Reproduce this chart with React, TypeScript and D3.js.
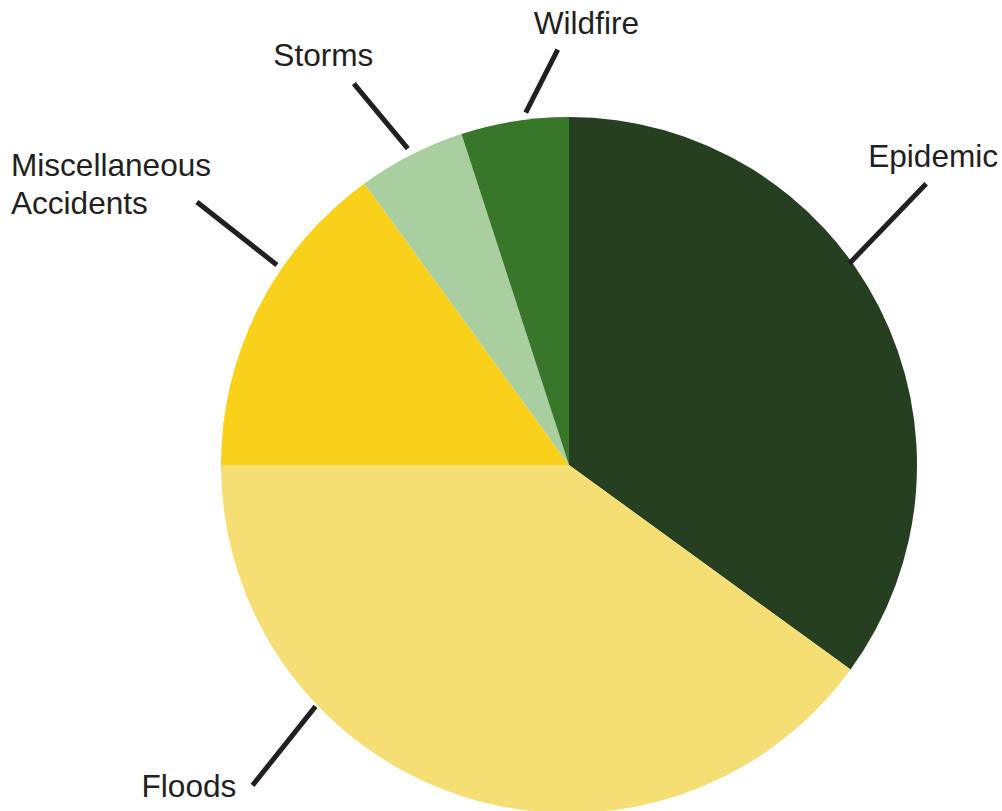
import React from "react";
import * as d3 from "d3";

// Share of events by category (percent)
const categories = ["Epidemic", "Floods", "Miscellaneous Accidents", "Storms", "Wildfire"];
const shares = [35, 40, 15, 5, 5];
const colors = ["#253f20", "#f5de74", "#f9d01a", "#a9cfa1", "#387629"];
const labelLines = [["Epidemic"], ["Floods"], ["Miscellaneous", "Accidents"], ["Storms"], ["Wildfire"]];

const W = 1002;
const H = 811;
const CX = 569;
const CY = 465;
const R = 348;

// Leader placement: angle (deg, clockwise from 12 o'clock) where each leader meets the pie,
// the leader's outward offset, and where its label sits relative to the leader's outer end.
const leaderLayout = [
  { angle: 54.3, r0: 345, dx: 77, dy: -80, tx: -58, ty: -16.5 },
  { angle: 226.4, r0: 350, dx: -63, dy: 79, tx: -111, ty: 12 },
  { angle: 304.4, r0: 354, dx: -80, dy: -63, tx: -186, ty: -26.5 },
  { angle: 333, r0: 355, dx: -54, dy: -65, tx: -80.5, ty: -18 },
  { angle: 353, r0: 355, dx: 32, dy: -63, tx: -24, ty: -16 },
];

const FONT = "Liberation Sans, Arial, sans-serif";
const LINE_GAP = 38;

export default function App() {
  const pie = d3
    .pie<number>()
    .sort(null)
    .value((d) => d)
    .startAngle(0)
    .endAngle(2 * Math.PI);
  const arcs = pie(shares);
  const arc = d3.arc<d3.PieArcDatum<number>>().innerRadius(0).outerRadius(R);

  return (
    <svg
      width={W}
      height={H}
      viewBox={`0 0 ${W} ${H}`}
      style={{ position: "absolute", left: 0, top: 0, background: "#fff" }}
    >
      <g transform={`translate(${CX},${CY})`}>
        {arcs.map((a, i) => (
          <path key={categories[i]} d={arc(a) || ""} fill={colors[i]} />
        ))}
      </g>
      {leaderLayout.map((L, i) => {
        const t = (L.angle * Math.PI) / 180;
        const x0 = CX + L.r0 * Math.sin(t);
        const y0 = CY - L.r0 * Math.cos(t);
        const x1 = x0 + L.dx;
        const y1 = y0 + L.dy;
        const lines = labelLines[i];
        return (
          <g key={categories[i]}>
            <line x1={x0} y1={y0} x2={x1} y2={y1} stroke="#231f20" strokeWidth={5} />
            <text style={{ fontFamily: FONT, fontSize: "31.6px" }} fill="#231f20">
              {lines.map((ln, j) => (
                <tspan key={j} x={x1 + L.tx} y={y1 + L.ty + j * LINE_GAP}>
                  {ln}
                </tspan>
              ))}
            </text>
          </g>
        );
      })}
    </svg>
  );
}
